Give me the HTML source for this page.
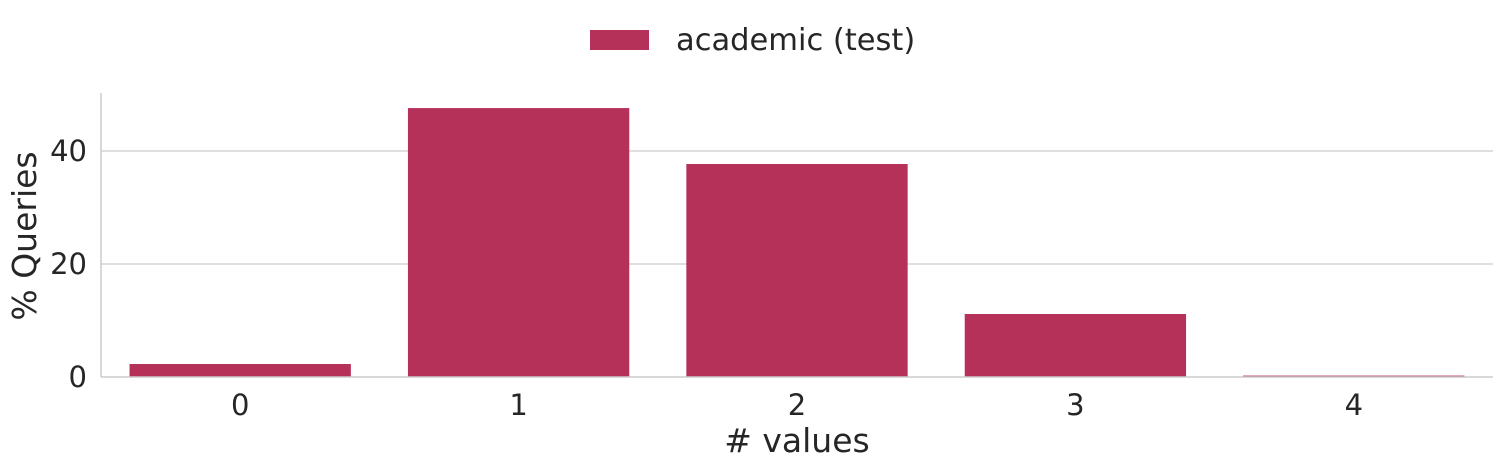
<!DOCTYPE html>
<html><head><meta charset="utf-8"><style>
html,body{margin:0;padding:0;background:#fff;}
svg{display:block;font-family:"DejaVu Sans","Liberation Sans",sans-serif;}
</style></head><body>
<svg id="chart" width="1503" height="468" viewBox="0 0 1503 468">
<g>
<rect x="590" y="30" width="59" height="20" fill="#b5315a"></rect>
<text x="676" y="50" font-size="30.5" fill="#262626">academic (test)</text>
</g>
<g id="grid"></g>
<g id="bars"></g>
<g id="axes"></g>
<text x="797" y="452" font-size="33" fill="#262626" text-anchor="middle"># values</text>
<text transform="translate(36,236) rotate(-90)" font-size="33" fill="#262626" text-anchor="middle">% Queries</text>
</svg>
<script>
const categories = ["0","1","2","3","4"];
const values = [2.3, 47.6, 37.7, 11.15, 0.25];
const yTicks = [0, 20, 40];
const NS="http://www.w3.org/2000/svg";
const plotLeft=101,plotRight=1493,baseY=377,pxPer=5.65,plotTop=93;
const band=(plotRight-plotLeft)/categories.length, bw=band*0.795;
const xS=i=>plotLeft+band*i+band/2;
const yS=v=>baseY-v*pxPer;
function mk(tag,attrs,parent){const e=document.createElementNS(NS,tag);for(const k in attrs)e.setAttribute(k,attrs[k]);document.getElementById(parent).appendChild(e);return e;}
yTicks.forEach(t=>{
  if(t>0){const l=mk("line",{x1:plotLeft,x2:plotRight,y1:yS(t),y2:yS(t),stroke:"#cccccc","stroke-width":1.3},"grid");
  
  }
  const tx=mk("text",{x:plotLeft-14,y:yS(t)+10,"font-size":29,fill:"#262626","text-anchor":"end"},"axes");
  tx.textContent=t;
  
  
});
values.forEach((v,i)=>{
  const r=mk("rect",{x:xS(i)-bw/2,y:yS(v),width:bw,height:v*pxPer,fill:"#b5315a"},"bars");
  
  
  const tx=mk("text",{x:xS(i),y:415,"font-size":29,fill:"#262626","text-anchor":"middle"},"axes");
  tx.textContent=categories[i];
  
  
});
const ya=mk("line",{x1:plotLeft,x2:plotLeft,y1:plotTop,y2:baseY,stroke:"#cccccc","stroke-width":1.5},"axes");


const xa=mk("line",{x1:plotLeft,x2:plotRight,y1:baseY,y2:baseY,stroke:"#cccccc","stroke-width":1.5},"axes");


</script>
</body></html>
